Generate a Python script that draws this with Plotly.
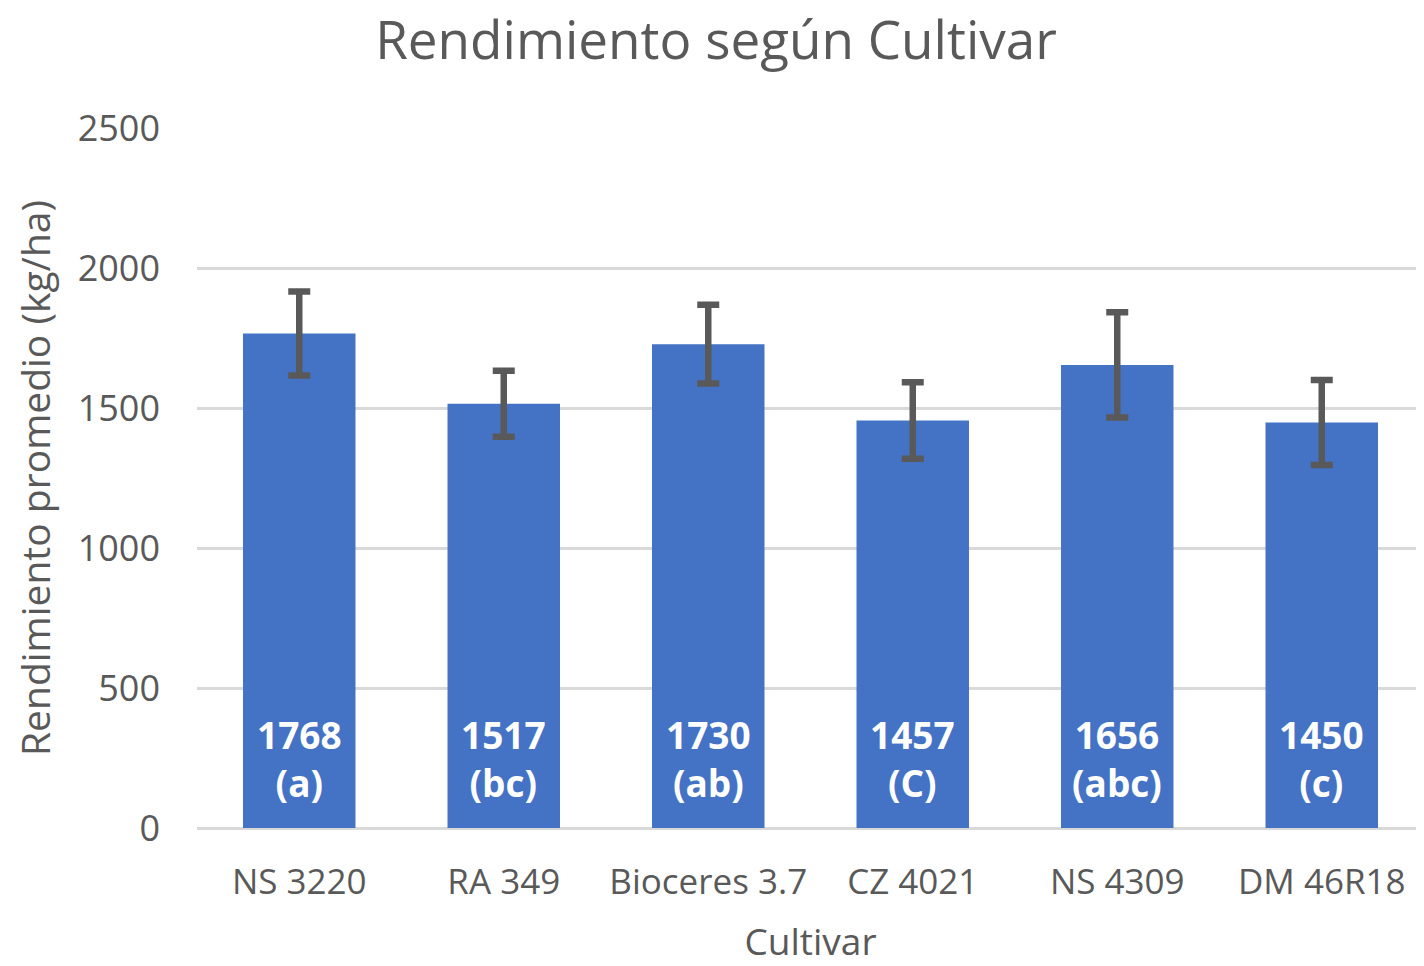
import plotly.graph_objects as go

cultivares = ["NS 3220", "RA 349", "Bioceres 3.7", "CZ 4021", "NS 4309", "DM 46R18"]
rendimiento = [1768, 1517, 1730, 1457, 1656, 1450]
error = [150, 118, 141, 137, 188, 152]
letras = ["(a)", "(bc)", "(ab)", "(C)", "(abc)", "(c)"]
y_ticks = [0, 500, 1000, 1500, 2000, 2500]

FONT = "Open Sans"
GRAY = "#595959"

fig = go.Figure()
fig.add_trace(go.Bar(
    x=cultivares, y=rendimiento,
    marker=dict(color="#4472C4", line=dict(width=0)),
    width=0.55,
    error_y=dict(type="data", array=error, visible=True, color=GRAY, thickness=6.5, width=11),
    hoverinfo="x+y",
))

for c, v, l in zip(cultivares, rendimiento, letras):
    fig.add_annotation(
        x=c, y=0, yanchor="bottom", yshift=18, showarrow=False,
        text=f"<b>{v}<br>{l}</b>",
        font=dict(family=FONT, size=37, color="white"),
        align="center",
    )

fig.update_layout(
    width=1416, height=958,
    margin=dict(l=189, r=0, t=120, b=138),
    paper_bgcolor="white", plot_bgcolor="white",
    title=dict(text="Rendimiento según Cultivar", x=0.5, xanchor="center",
               y=0.966, yanchor="middle",
               font=dict(family=FONT, size=53, color=GRAY)),
    showlegend=False,
)
fig.update_yaxes(
    range=[0, 2503], tickvals=y_ticks, showgrid=True, gridcolor="#D9D9D9", gridwidth=3,
    zeroline=True, zerolinecolor="#D9D9D9", zerolinewidth=3,
    showline=False, ticks="", ticklabelstandoff=36,
    tickfont=dict(family=FONT, size=36, color=GRAY),
    title=dict(text="Rendimiento promedio (kg/ha)", standoff=16,
               font=dict(family=FONT, size=39, color=GRAY)),
)
fig.update_xaxes(
    showline=False, ticks="", showgrid=False, ticklabelstandoff=30,
    tickfont=dict(family=FONT, size=35, color=GRAY),
    title=dict(text="Cultivar", standoff=32, font=dict(family=FONT, size=37, color=GRAY)),
)

fig.write_html("out.html")
